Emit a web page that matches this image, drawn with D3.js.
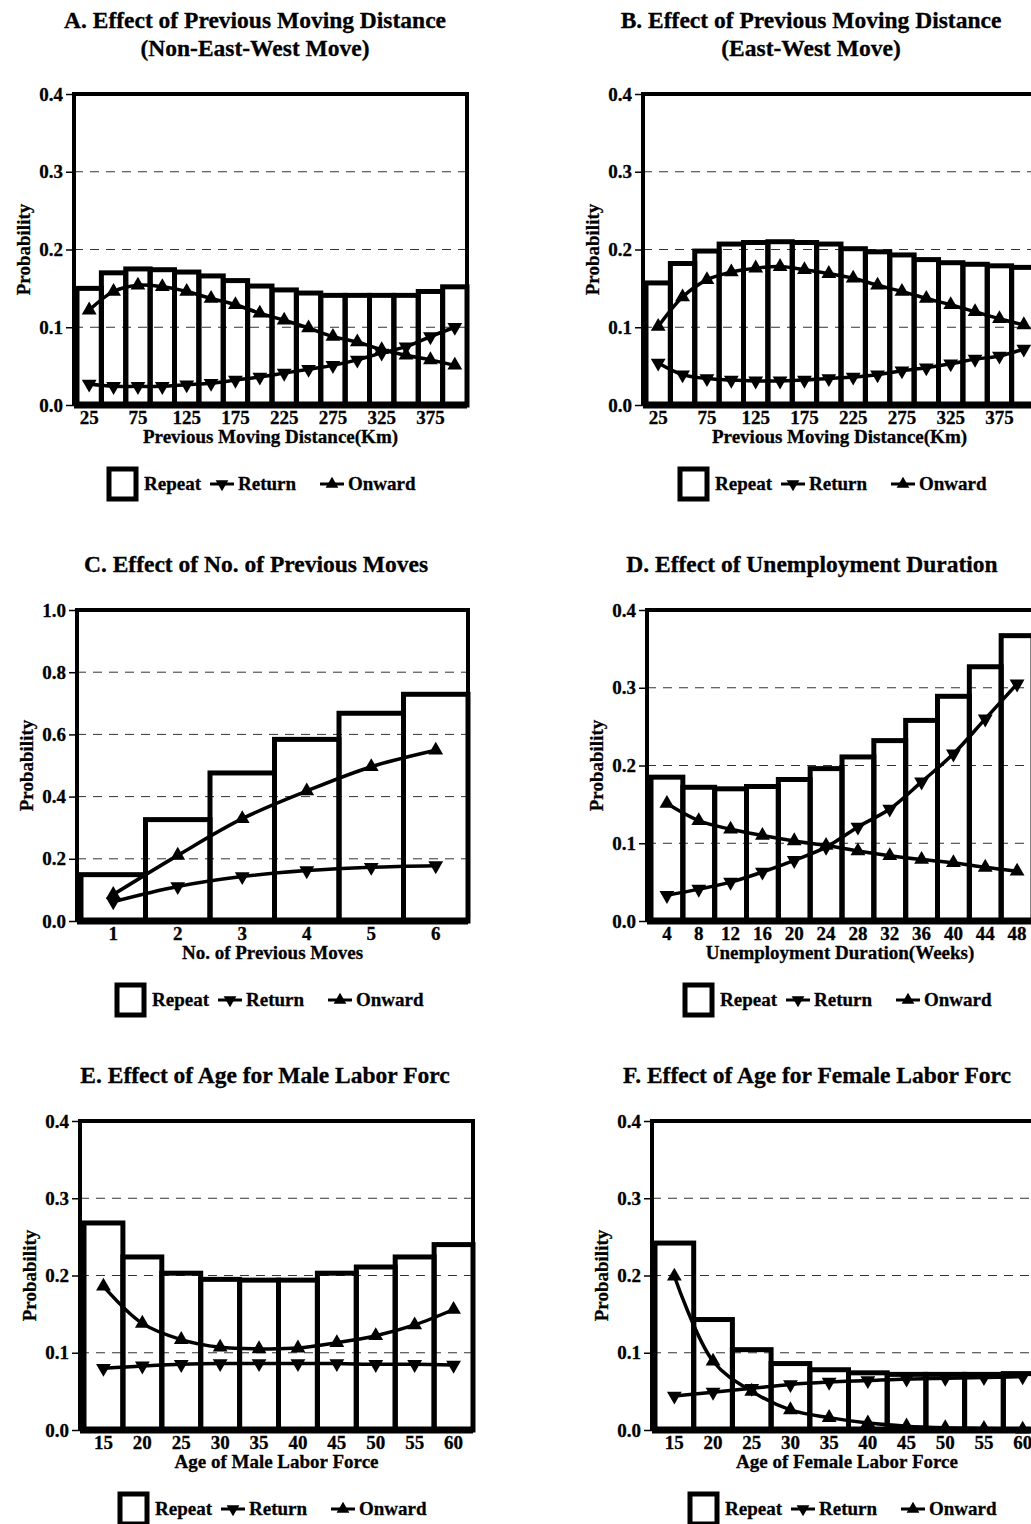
<!DOCTYPE html>
<html><head><meta charset="utf-8">
<script src="https://cdn.jsdelivr.net/npm/d3@7"></script>
<style>
body{margin:0;background:#fff;overflow:hidden}
svg{display:block}
text{font-family:"Liberation Serif","Times New Roman",serif;font-weight:bold;fill:#000;stroke:#000;stroke-width:0.3px}
</style>
</head><body><div id="chart"></div><script>
// categories and tick labels
const distCats = [25,50,75,100,125,150,175,200,225,250,275,300,325,350,375,400];
const distTicks = [25,75,125,175,225,275,325,375];
const moveCats = [1,2,3,4,5,6];
const weekCats = [4,8,12,16,20,24,28,32,36,40,44,48];
const ageCats = [15,20,25,30,35,40,45,50,55,60];
const yTicks04 = [0,0.1,0.2,0.3,0.4];
const yTicks10 = [0,0.2,0.4,0.6,0.8,1.0];

// A. previous moving distance, non-east-west
const aRepeat = [0.150,0.170,0.175,0.174,0.171,0.166,0.160,0.153,0.148,0.144,0.141,0.141,0.141,0.141,0.146,0.152];
const aReturn = [0.027,0.024,0.024,0.024,0.026,0.028,0.032,0.036,0.041,0.046,0.051,0.058,0.067,0.075,0.088,0.100];
const aOnward = [0.122,0.146,0.154,0.152,0.146,0.137,0.129,0.118,0.109,0.099,0.088,0.081,0.071,0.064,0.058,0.051];

// B. previous moving distance, east-west
const bRepeat = [0.157,0.182,0.198,0.207,0.209,0.210,0.209,0.207,0.201,0.197,0.193,0.187,0.183,0.181,0.179,0.177];
const bReturn = [0.054,0.039,0.034,0.032,0.031,0.031,0.032,0.034,0.036,0.039,0.044,0.048,0.053,0.059,0.063,0.072];
const bOnward = [0.101,0.139,0.161,0.171,0.176,0.178,0.174,0.169,0.163,0.154,0.146,0.137,0.129,0.120,0.111,0.103];

// C. number of previous moves
const cRepeat = [0.149,0.326,0.476,0.584,0.668,0.729];
const cReturn = [0.062,0.111,0.143,0.162,0.173,0.178];
const cOnward = [0.085,0.211,0.329,0.418,0.496,0.549];

// D. unemployment duration
const dRepeat = [0.185,0.172,0.170,0.173,0.182,0.196,0.211,0.232,0.258,0.289,0.327,0.367];
const dReturn = [0.033,0.041,0.050,0.063,0.078,0.095,0.121,0.144,0.179,0.215,0.260,0.305];
const dOnward = [0.151,0.129,0.118,0.110,0.103,0.097,0.090,0.084,0.079,0.075,0.069,0.064];

// E. age, male
const eRepeat = [0.268,0.224,0.203,0.195,0.194,0.194,0.203,0.211,0.224,0.240];
const eReturn = [0.080,0.083,0.085,0.086,0.086,0.086,0.086,0.085,0.085,0.084];
const eOnward = [0.186,0.138,0.117,0.107,0.105,0.106,0.113,0.122,0.136,0.156];

// F. age, female
const fRepeat = [0.242,0.143,0.104,0.086,0.078,0.074,0.072,0.072,0.072,0.073];
const fReturn = [0.044,0.049,0.054,0.059,0.062,0.064,0.066,0.067,0.068,0.069];
const fOnward = [0.199,0.089,0.050,0.026,0.016,0.009,0.005,0.003,0.002,0.001];

const panels = [
  {title:["A. Effect of Previous Moving Distance","(Non-East-West Move)"], xTitle:"Previous Moving Distance(Km)",
   cats:distCats, ticks:distTicks, repeat:aRepeat, ret:aReturn, onward:aOnward, yTicks:yTicks04,
   left:74, top:94, width:393, height:311, inset:3, titleX:255, legendX:109},
  {title:["B. Effect of Previous Moving Distance","(East-West Move)"], xTitle:"Previous Moving Distance(Km)",
   cats:distCats, ticks:distTicks, repeat:bRepeat, ret:bReturn, onward:bOnward, yTicks:yTicks04,
   left:643, top:94, width:393, height:311, inset:3, titleX:811, legendX:680},
  {title:["C. Effect of No. of Previous Moves"], xTitle:"No. of Previous Moves",
   cats:moveCats, ticks:moveCats, repeat:cRepeat, ret:cReturn, onward:cOnward, yTicks:yTicks10,
   left:77, top:610, width:391, height:311, inset:4, titleX:256, legendX:117},
  {title:["D. Effect of Unemployment Duration"], xTitle:"Unemployment Duration(Weeks)",
   cats:weekCats, ticks:weekCats, repeat:dRepeat, ret:dReturn, onward:dOnward, yTicks:yTicks04,
   left:647, top:610, width:386, height:311, inset:4, titleX:812, legendX:685},
  {title:["E. Effect of Age for Male Labor Forc"], xTitle:"Age of Male Labor Force",
   cats:ageCats, ticks:ageCats, repeat:eRepeat, ret:eReturn, onward:eOnward, yTicks:yTicks04,
   left:80, top:1121, width:393, height:309, inset:4, titleX:265, legendX:120},
  {title:["F. Effect of Age for Female Labor Forc"], xTitle:"Age of Female Labor Force",
   cats:ageCats, ticks:ageCats, repeat:fRepeat, ret:fReturn, onward:fOnward, yTicks:yTicks04,
   left:652, top:1121, width:390, height:309, inset:3, titleX:817, legendX:690}
];

const svg = d3.select("#chart").append("svg")
  .attr("width", 1031)
  .attr("height", 1524);

const tri = d3.symbol().type(d3.symbolTriangle).size(95);

function drawPanel(p){
  const g = svg.append("g").attr("transform", `translate(${p.left},${p.top})`);
  const w = p.width, h = p.height;

  const x = d3.scaleBand().domain(p.cats).range([p.inset, w]).padding(0);
  const y = d3.scaleLinear().domain([0, d3.max(p.yTicks)]).range([h, 0]);
  const cx = d => x(d) + x.bandwidth() / 2;

  // title
  p.title.forEach((t, i) => {
    svg.append("text")
      .attr("x", p.titleX)
      .attr("y", p.top - 38 - (p.title.length - 1 - i) * 28)
      .attr("text-anchor", "middle")
      .style("font-size", "23.5px")
      .text(t);
  });

  // dashed grid
  g.append("g").selectAll("line")
    .data(p.yTicks.slice(1, -1))
    .join("line")
    .attr("x1", 0).attr("x2", w)
    .attr("y1", d => y(d)).attr("y2", d => y(d))
    .attr("stroke", "#333").attr("stroke-width", 1)
    .attr("stroke-dasharray", "9,7");

  // y axis
  const ya = g.append("g")
    .call(d3.axisLeft(y).tickValues(p.yTicks).tickFormat(d3.format(".1f")).tickSize(8).tickPadding(3));
  ya.select(".domain").remove();
  ya.selectAll("line").attr("stroke", "#000").attr("stroke-width", 1.5);
  ya.selectAll("text").style("font-size", "19px").style("font-family", null).attr("fill", null);

  svg.append("text")
    .attr("transform", `translate(${p.left - 44},${p.top + h / 2}) rotate(-90)`)
    .attr("text-anchor", "middle")
    .style("font-size", "19px")
    .text("Probability");

  // frame
  g.append("path")
    .attr("d", `M0,${h}V0H${w}V${h}`)
    .attr("fill", "none").attr("stroke", "#000").attr("stroke-width", 4);

  // bars
  g.append("g").selectAll("rect")
    .data(p.cats)
    .join("rect")
    .attr("x", d => x(d))
    .attr("y", (d, i) => y(p.repeat[i]))
    .attr("width", x.bandwidth())
    .attr("height", (d, i) => y(0) - y(p.repeat[i]))
    .attr("fill", "none")
    .attr("stroke", "#000")
    .attr("stroke-width", 5);

  // baseline
  g.append("line")
    .attr("x1", 0).attr("x2", w)
    .attr("y1", h).attr("y2", h)
    .attr("stroke", "#000").attr("stroke-width", 7);

  // x axis
  const xa = g.append("g")
    .attr("transform", `translate(0,${h})`)
    .call(d3.axisBottom(x).tickValues(p.ticks).tickSize(0).tickPadding(6));
  xa.select(".domain").remove();
  xa.selectAll("text").style("font-size", "19px").style("font-family", null).attr("fill", null);

  svg.append("text")
    .attr("x", p.left + w / 2)
    .attr("y", p.top + h + 38)
    .attr("text-anchor", "middle")
    .style("font-size", "19px")
    .text(p.xTitle);

  // lines
  const line = vals => d3.line()
    .x((d, i) => cx(p.cats[i]))
    .y(d => y(d))
    .curve(d3.curveCatmullRom.alpha(0.5))(vals);

  [[p.ret, 180], [p.onward, 0]].forEach(([vals, rot]) => {
    g.append("path")
      .attr("d", line(vals))
      .attr("fill", "none").attr("stroke", "#000").attr("stroke-width", 3.5);
    g.append("g").selectAll("path")
      .data(vals)
      .join("path")
      .attr("d", tri)
      .attr("transform", (d, i) => `translate(${cx(p.cats[i])},${y(d)}) rotate(${rot})`)
      .attr("fill", "#000");
  });

  // legend
  const lg = svg.append("g").attr("transform", `translate(${p.legendX},${p.top + h + 79})`);
  lg.append("rect").attr("x", 0).attr("y", -15).attr("width", 27).attr("height", 30)
    .attr("fill", "none").attr("stroke", "#000").attr("stroke-width", 5);
  lg.append("text").attr("x", 35).attr("y", 6).style("font-size", "19px").text("Repeat");
  [[101, 180, "Return"], [211, 0, "Onward"]].forEach(([lx, rot, label]) => {
    lg.append("line").attr("x1", lx).attr("x2", lx + 24).attr("y1", 0).attr("y2", 0)
      .attr("stroke", "#000").attr("stroke-width", 3);
    lg.append("path").attr("d", d3.symbol().type(d3.symbolTriangle).size(70)())
      .attr("transform", `translate(${lx + 12},0) rotate(${rot})`).attr("fill", "#000");
    lg.append("text").attr("x", lx + 28).attr("y", 6).style("font-size", "19px").text(label);
  });
}

panels.forEach(drawPanel);
</script></body></html>
